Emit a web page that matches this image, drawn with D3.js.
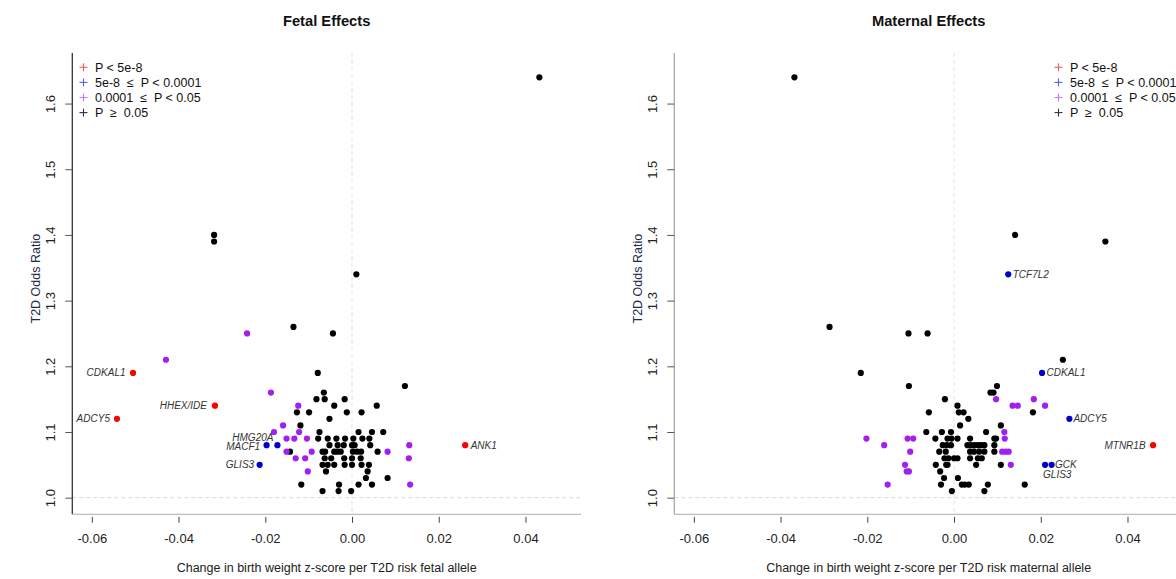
<!DOCTYPE html>
<html>
<head>
<meta charset="utf-8">
<script src="https://cdn.jsdelivr.net/npm/d3@7/dist/d3.min.js"></script>
<style>
  html, body { margin: 0; padding: 0; background: #fff; }
  svg { display: block; font-family: "Liberation Sans", Arial, Helvetica, sans-serif; }
  text { white-space: pre; }
</style>
</head>
<body>
<script>
// ---------------- DATA ----------------
const groupNames = ["P < 5e-8", "5e-8  \u2264  P < 0.0001", "0.0001  \u2264  P < 0.05", "P  \u2265  0.05"];
const yTicks = [1.0, 1.1, 1.2, 1.3, 1.4, 1.5, 1.6];
const xTicks = [-0.06, -0.04, -0.02, 0.00, 0.02, 0.04];
const panelTitles = ["Fetal Effects", "Maternal Effects"];
const xTitles = ["Change in birth weight z-score per T2D risk fetal allele",
                 "Change in birth weight z-score per T2D risk maternal allele"];
const yTitle = "T2D Odds Ratio";

// Fetal panel: [beta, odds ratio, gene label]
const fetalRed = [[-0.0542, 1.12, "ADCY5"], [-0.0505, 1.19, "CDKAL1"], [-0.0316, 1.14, "HHEX/IDE"], [0.0261, 1.08, "ANK1"]];
const fetalBlue = [[-0.0172, 1.08, "HMG20A"], [-0.0197, 1.08, "MACF1"], [-0.0213, 1.05, "GLIS3"]];
const fetalPurple = [[-0.0429, 1.21], [-0.0242, 1.25], [-0.0187, 1.16], [-0.0124, 1.14], [-0.0159, 1.11],
  [-0.0180, 1.10], [-0.0122, 1.10], [-0.0151, 1.09], [-0.0133, 1.09], [-0.0104, 1.09], [0.0132, 1.08],
  [-0.0151, 1.07], [-0.0093, 1.07], [0.0082, 1.07], [-0.0130, 1.06], [-0.0108, 1.06], [0.0131, 1.06],
  [-0.0102, 1.04], [0.0134, 1.02]];
const fetalBlack = [[0.0432, 1.64], [-0.0318, 1.40], [-0.0318, 1.39], [0.0010, 1.34], [-0.0135, 1.26], [-0.0044, 1.25],
  [-0.0079, 1.19], [0.0122, 1.17], [-0.0065, 1.16], [-0.0082, 1.15], [-0.0063, 1.15], [-0.0017, 1.15],
  [-0.0041, 1.14], [0.0057, 1.14], [-0.0127, 1.13], [-0.0099, 1.13], [-0.0012, 1.13], [0.0022, 1.13],
  [-0.0052, 1.12], [-0.0119, 1.11], [-0.0075, 1.10], [0.0015, 1.10], [0.0046, 1.10], [0.0072, 1.10],
  [-0.0078, 1.09], [-0.0056, 1.09], [-0.0036, 1.09], [-0.0016, 1.09], [0.0003, 1.09], [0.0024, 1.09], [0.0040, 1.09],
  [-0.0052, 1.08], [-0.0033, 1.08], [-0.0019, 1.08], [0.0000, 1.08], [0.0006, 1.08], [0.0042, 1.08],
  [-0.0143, 1.07], [-0.0068, 1.07], [-0.0062, 1.07], [-0.0041, 1.07], [-0.0034, 1.07], [-0.0026, 1.07],
  [0.0002, 1.07], [0.0012, 1.07], [0.0021, 1.07], [0.0059, 1.07],
  [-0.0063, 1.06], [-0.0048, 1.06], [-0.0018, 1.06], [0.0000, 1.06], [0.0020, 1.06],
  [-0.0068, 1.05], [-0.0056, 1.05], [-0.0041, 1.05], [-0.0017, 1.05], [0.0000, 1.05], [0.0022, 1.05], [0.0039, 1.05],
  [-0.0060, 1.04], [0.0036, 1.04], [0.0032, 1.03], [0.0082, 1.03],
  [-0.0117, 1.02], [-0.0030, 1.02], [0.0015, 1.02], [0.0046, 1.02],
  [-0.0068, 1.01], [-0.0031, 1.01], [-0.0002, 1.01]];

// Maternal panel
const maternalRed = [[0.0459, 1.08, "MTNR1B"]];
const maternalBlue = [[0.0125, 1.34, "TCF7L2"], [0.0203, 1.19, "CDKAL1"], [0.0266, 1.12, "ADCY5"],
  [0.0225, 1.05, "GCK"], [0.0210, 1.05, "GLIS3"]];
const maternalPurple = [[-0.0202, 1.09], [-0.0161, 1.08], [-0.0153, 1.02], [-0.0107, 1.09], [-0.0094, 1.09],
  [-0.0101, 1.07], [-0.0113, 1.05], [-0.0109, 1.04], [-0.0104, 1.04], [0.0097, 1.15], [0.0135, 1.14],
  [0.0147, 1.14], [0.0184, 1.15], [0.0210, 1.14], [0.0116, 1.10], [0.0117, 1.09], [0.0111, 1.07],
  [0.0119, 1.07], [0.0126, 1.07], [0.0131, 1.05]];
const maternalBlack = [[-0.0368, 1.64], [0.0141, 1.40], [0.0349, 1.39], [-0.0287, 1.26], [-0.0105, 1.25], [-0.0061, 1.25],
  [0.0251, 1.21], [-0.0215, 1.19], [-0.0104, 1.17], [0.0099, 1.17], [0.0084, 1.16], [0.0091, 1.16],
  [-0.0021, 1.15], [0.0008, 1.14], [0.0011, 1.13], [0.0022, 1.13], [-0.0058, 1.13], [0.0182, 1.13],
  [0.0033, 1.12], [0.0014, 1.11], [0.0108, 1.11], [-0.0064, 1.10], [-0.0028, 1.10], [-0.0007, 1.10], [0.0074, 1.10],
  [-0.0043, 1.09], [-0.0015, 1.09], [-0.0006, 1.09], [0.0008, 1.09], [0.0037, 1.09], [0.0093, 1.09], [0.0097, 1.09],
  [-0.0026, 1.08], [-0.0017, 1.08], [-0.0007, 1.08], [0.0031, 1.08], [0.0039, 1.08], [0.0047, 1.08],
  [0.0055, 1.08], [0.0062, 1.08], [0.0070, 1.08], [0.0093, 1.08],
  [-0.0034, 1.07], [-0.0019, 1.07], [0.0037, 1.07], [0.0046, 1.07], [0.0058, 1.07], [0.0070, 1.07], [0.0093, 1.07],
  [-0.0022, 1.06], [-0.0013, 1.06], [0.0000, 1.06], [0.0008, 1.06], [0.0037, 1.06], [0.0055, 1.06], [0.0064, 1.06],
  [-0.0042, 1.05], [-0.0018, 1.05], [-0.0015, 1.05], [0.0051, 1.05], [0.0108, 1.05],
  [-0.0032, 1.04], [-0.0023, 1.03], [0.0009, 1.03],
  [-0.0030, 1.02], [0.0018, 1.02], [0.0025, 1.02], [0.0034, 1.02], [0.0078, 1.02], [0.0163, 1.02],
  [-0.0005, 1.01], [0.0070, 1.01]];

// ---------------- STYLE ----------------
const pointColors = ["#ff0000", "#0000cd", "#a020f0", "#000000"];
const legendColors = ["#ff5a5a", "#5a5aff", "#c27cff", "#333333"];
// label placement: side and pixel nudges
const labelPlace = {
  fetal: { "ADCY5": ["L", -7, 0], "CDKAL1": ["L", -7.5, 0], "HHEX/IDE": ["L", -8, 0], "ANK1": ["R", 5.5, 0],
           "HMG20A": ["L", -4, -7.5], "MACF1": ["L", -6.5, 1.5], "GLIS3": ["L", -5.5, 0] },
  maternal: { "MTNR1B": ["L", -7.5, 0], "TCF7L2": ["R", 4.5, 0], "CDKAL1": ["R", 4.5, 0], "ADCY5": ["R", 4, 0],
              "GCK": ["R", 3.5, -0.5], "GLIS3": ["R", -2, 9.5] }
};

const W = 1176, H = 579;
const svg = d3.select("body").append("svg").attr("width", W).attr("height", H);

const xDomain = [-0.0645, 0.0528];
const yDomain = [0.9747, 1.677];
const plotTop = 53, plotBottom = 514.3;

function drawPanel(off, idx, groups, key, legendX, yAxisColor) {
  const x0 = 72.3 + off, x1 = 581 + off;
  const x = d3.scaleLinear().domain(xDomain).range([x0, x1]);
  const y = d3.scaleLinear().domain(yDomain).range([plotBottom, plotTop]);
  const g = svg.append("g");

  // reference dashed lines
  g.append("line").attr("x1", x0).attr("x2", x1).attr("y1", y(1)).attr("y2", y(1))
    .attr("stroke", "#d9d9d9").attr("stroke-dasharray", "4,3");
  g.append("line").attr("x1", x(0)).attr("x2", x(0)).attr("y1", plotTop).attr("y2", plotBottom)
    .attr("stroke", "#e2e2e2").attr("stroke-dasharray", "4,3");

  // axis frame (L-shape)
  g.append("line").attr("x1", x0).attr("x2", x0).attr("y1", plotTop).attr("y2", plotBottom)
    .attr("stroke", yAxisColor).attr("stroke-width", 1.3);
  g.append("line").attr("x1", x0).attr("x2", x1).attr("y1", plotBottom).attr("y2", plotBottom)
    .attr("stroke", "#bdbdbd").attr("stroke-width", 1.3);

  // y axis
  const ya = g.append("g").attr("transform", `translate(${x0},0)`)
    .call(d3.axisLeft(y).tickValues(yTicks).tickSize(7).tickFormat(d3.format(".1f")));
  ya.select(".domain").remove();
  ya.selectAll(".tick line").attr("stroke", "#555");
  ya.selectAll(".tick text").attr("x", null).attr("dy", null)
    .attr("transform", "translate(-21.5,0) rotate(-90)")
    .attr("text-anchor", "middle").attr("dy", "0.35em")
    .attr("font-size", 13).attr("fill", "#222").attr("font-family", "Liberation Sans, Arial, sans-serif");

  // x axis
  const xa = g.append("g").attr("transform", `translate(0,${plotBottom + 2.5})`)
    .call(d3.axisBottom(x).tickValues(xTicks).tickSize(6).tickFormat(d3.format(".2f")));
  xa.select(".domain").remove();
  xa.selectAll(".tick line").attr("stroke", "#444");
  xa.selectAll(".tick text").attr("y", 21.5).attr("dy", "0.35em")
    .attr("font-size", 13).attr("fill", "#222").attr("font-family", "Liberation Sans, Arial, sans-serif")
    .text(d => d3.format(".2f")(d).replace("\u2212", "-"));

  // titles
  svg.append("text").attr("x", (x0 + x1) / 2).attr("y", 26).attr("text-anchor", "middle")
    .attr("font-size", 14.7).attr("font-weight", "bold").attr("fill", "#111").text(panelTitles[idx]);
  svg.append("text").attr("x", (x0 + x1) / 2).attr("y", 572).attr("text-anchor", "middle")
    .attr("font-size", 12.5).attr("fill", "#222").text(xTitles[idx]);
  svg.append("text").attr("transform", `translate(${x0 - 37},${(plotTop + plotBottom) / 2 - 5}) rotate(-90)`)
    .attr("text-anchor", "middle").attr("dy", "0.35em")
    .attr("font-size", 12.5).attr("fill", "#1e2a48").text(yTitle);

  // points: black first, then purple, blue, red on top
  const order = [3, 2, 1, 0];
  order.forEach(gi => {
    g.append("g").selectAll("circle").data(groups[gi]).join("circle")
      .attr("cx", d => x(d[0])).attr("cy", d => y(d[1])).attr("r", 3.1)
      .attr("fill", pointColors[gi]);
  });

  // gene labels
  [0, 1].forEach(gi => {
    groups[gi].forEach(d => {
      if (!d[2]) return;
      const p = labelPlace[key][d[2]];
      g.append("text").attr("x", x(d[0]) + p[1]).attr("y", y(d[1]) + p[2]).attr("dy", "0.35em")
        .attr("text-anchor", p[0] === "L" ? "end" : "start")
        .attr("font-size", 10).attr("font-style", "italic").attr("fill", "#333").text(d[2]);
    });
  });

  // legend
  const lg = svg.append("g");
  groupNames.forEach((name, i) => {
    const cy = 67.3 + i * 15.1;
    lg.append("line").attr("x1", legendX - 4).attr("x2", legendX + 4).attr("y1", cy).attr("y2", cy)
      .attr("stroke", legendColors[i]).attr("stroke-width", 1.1);
    lg.append("line").attr("x1", legendX).attr("x2", legendX).attr("y1", cy - 4).attr("y2", cy + 4)
      .attr("stroke", legendColors[i]).attr("stroke-width", 1.1);
    lg.append("text").attr("x", legendX + 11.5).attr("y", cy).attr("dy", "0.35em")
      .attr("font-size", 12.5).attr("fill", "#111").text(name);
  });
}

drawPanel(0, 0, [fetalRed, fetalBlue, fetalPurple, fetalBlack], "fetal", 83.5, "#333");
drawPanel(602, 1, [maternalRed, maternalBlue, maternalPurple, maternalBlack], "maternal", 1058.5, "#aaa");
</script>
</body>
</html>
